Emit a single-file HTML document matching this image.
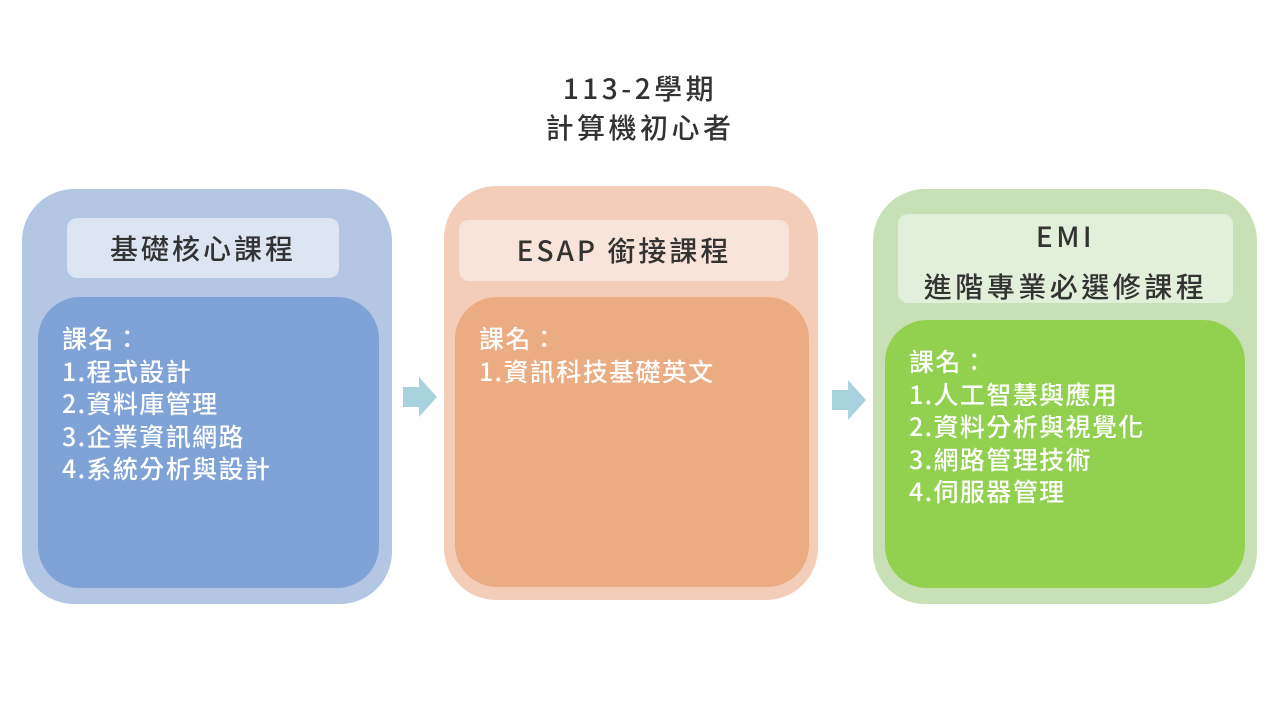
<!DOCTYPE html>
<html><head><meta charset="utf-8"><style>
body{margin:0;width:1280px;height:720px;background:#fff;position:relative;font-family:"Noto Sans CJK TC","Liberation Sans",sans-serif;overflow:hidden}
div{position:absolute;box-sizing:border-box}
.t{left:0;width:1280px;text-align:center;font-size:28px;font-weight:500;color:#333;letter-spacing:3.5px;line-height:40px}
.hd{text-align:center;font-size:28px;font-weight:500;color:#333;border-radius:10px;letter-spacing:3px}
.in{color:#fff;font-size:25px;font-weight:500;line-height:32.5px;padding:25px 0 0 24px;letter-spacing:1.4px}
</style></head><body>
<div class="t" style="top:68px">113-2學期</div>
<div class="t" style="top:107px">計算機初心者</div>

<div style="left:22px;top:189px;width:370px;height:415px;border-radius:52px;background:#b3c7e4"></div>
<div class="hd" style="left:67px;top:218px;width:272px;height:60px;line-height:60px;background:#dce5f1">基礎核心課程</div>
<div class="in" style="left:38px;top:297px;width:341px;height:291px;border-radius:42px;background:#7fa3d6">課名：<br>1.程式設計<br>2.資料庫管理<br>3.企業資訊網路<br>4.系統分析與設計</div>

<div style="left:444px;top:186px;width:374px;height:414px;border-radius:52px;background:#f4cdb8"></div>
<div class="hd" style="left:459px;top:220px;width:330px;height:61px;line-height:61px;background:#f8e4da">ESAP 銜接課程</div>
<div class="in" style="left:455px;top:297px;width:354px;height:290px;border-radius:42px;background:#ebab83">課名：<br>1.資訊科技基礎英文</div>

<div style="left:873px;top:189px;width:384px;height:415px;border-radius:52px;background:#c8e0b5"></div>
<div class="hd" style="left:898px;top:214px;width:335px;height:89px;background:#e2efda;letter-spacing:3.5px"><div style="left:0;top:-3px;width:335px;line-height:50px">EMI<br>進階專業必選修課程</div></div>
<div class="in" style="left:885px;top:320px;width:360px;height:268px;border-radius:42px;background:#92d050;padding-top:25px">課名：<br>1.人工智慧與應用<br>2.資料分析與視覺化<br>3.網路管理技術<br>4.伺服器管理</div>

<svg style="position:absolute;left:0;top:0" width="1280" height="720">
<polygon points="403,387 419,387 419,377 437,397 419,417 419,407 403,407" fill="#a9d3dc"/>
<polygon points="832,390 848,390 848,380 866,400 848,420 848,410 832,410" fill="#a9d3dc"/>
</svg>
</body></html>
